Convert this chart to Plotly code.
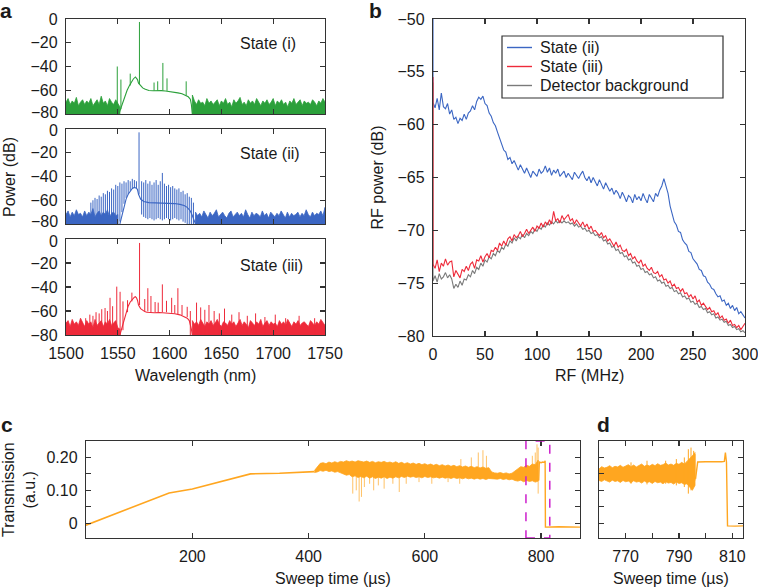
import numpy as np
import plotly.graph_objects as go

W, H = 758, 588
FONT = "Liberation Sans, Arial, sans-serif"
GREEN, BLUE, RED, GRAY = "#2ba03a", "#3b66c3", "#ee2a3a", "#7a7a7a"
ORANGE, MAGENTA, AX = "#ffa620", "#cc1fcc", "#333333"

# ---------------- panel a data (wavelength nm, power dB) ----------------
a_states = ["State (i)", "State (ii)", "State (iii)"]
pump_wl = [1570.9, 1570.5, 1571.0]
pump_db = [-2.5, -2.8, -3.3]
pump_base = [-55, -55, -55]

g_noise_l = [-70, -67, -72, -69, -71, -66, -73, -70, -68, -72, -69, -71, -67, -73, -70, -68, -72, -65,
             -71, -69, -73, -67, -70, -72, -68, -71, -74]
g_noise_r = [-64, -69, -72, -68, -71, -70, -73, -67, -71, -69, -72, -70, -68, -73, -69, -71, -67, -72,
             -70, -74, -68, -71, -69, -66, -72, -70, -73, -68, -71, -69, -72, -67, -70, -73, -69, -71,
             -68, -72, -70, -67, -73, -69, -71, -68, -72, -70, -74, -69, -71, -67, -72, -70, -68, -73,
             -69, -71, -70, -72, -68, -70, -73, -69, -71, -67, -70]
g_env_wl = [1551, 1553, 1555, 1557, 1559, 1561, 1563, 1565, 1567, 1568, 1569, 1570, 1572, 1574, 1576,
            1578, 1580, 1584, 1588, 1592, 1596, 1600, 1604, 1608, 1612, 1615, 1618, 1620, 1621, 1622]
g_env_db = [-80, -75, -69, -64, -60, -56.5, -53, -50.5, -48.8, -49.5, -51, -54, -56.5, -58, -59,
            -59.8, -60.2, -60.4, -60.1, -60.3, -60.6, -61, -61.5, -62.2, -63, -64, -65.5, -67.5, -72, -80]
g_spk_wl = [1549.5, 1553, 1562, 1585, 1588.5, 1593.5, 1597.5, 1616]
g_spk_top = [-40, -51, -46, -53.5, -52.5, -37, -50, -52.5]
g_spk_base = [-80, -76, -56, -60.4, -60.2, -60.2, -60.5, -64.5]

b_noise_l = [-72, -69, -74, -70, -73, -68, -72, -71, -74, -69, -73, -70, -72, -67, -74, -71, -69, -73,
             -70, -72, -68, -74, -71, -70, -73, -72]
b_noise_r = [-70, -73, -71, -74, -69, -72, -75, -70, -73, -71, -68, -74, -72, -70, -73, -75, -71, -69,
             -74, -72, -70, -73, -71, -74, -68, -72, -75, -70, -73, -71, -72, -74, -69, -73, -71, -75,
             -70, -72, -74, -71, -73, -69, -72, -75, -70, -74, -71, -73, -72, -70, -74, -71, -73, -68,
             -72, -74, -70, -73, -71, -72, -69, -73, -66]
b_env_wl = [1552, 1554, 1556, 1558, 1560, 1562, 1564, 1566, 1568, 1569, 1570, 1572, 1575, 1580, 1585,
            1590, 1595, 1600, 1605, 1610, 1614, 1617, 1620, 1622, 1624, 1625]
b_env_db = [-80, -73, -65, -59, -55, -52, -50, -49.2, -49.8, -51, -55, -59, -61, -62, -62.2, -61.8, -62,
            -62.3, -62.8, -63.5, -64.5, -66, -69, -73, -78, -80]
b_comb_wl = [1524, 1526, 1528, 1530, 1532, 1534, 1536, 1538, 1540, 1542, 1544, 1546, 1548, 1550, 1552,
             1554, 1556, 1558, 1560, 1562, 1564, 1566, 1568, 1573, 1575, 1577, 1579, 1581, 1583, 1585,
             1587, 1589, 1591, 1593, 1595, 1597, 1599, 1601, 1603, 1605, 1607, 1609, 1611, 1613, 1615,
             1617, 1619, 1621, 1623]
b_comb_top = [-62, -60, -58, -59, -56, -57, -54, -55, -52, -53, -50, -51, -47, -48, -45, -46, -44, -45,
              -43, -44, -42, -43, -44, -44, -45, -43, -46, -44, -47, -45, -43, -47, -44, -37, -46, -48,
              -47, -49, -48, -50, -51, -50, -53, -52, -55, -54, -57, -58, -62]
b_comb_base = [-80, -80, -80, -80, -80, -80, -80, -80, -80, -80, -80, -80, -80, -80,
               -78, -70, -63, -58, -55, -52, -50, -49, -50,
               -72, -74, -75, -76, -75, -76, -77, -76, -75, -76, -77, -76, -75, -76, -77, -76, -75,
               -76, -77, -76, -78, -79, -80, -80, -80, -80]

r_noise_l = [-70, -68, -73, -67, -71, -69, -72, -66, -70, -73, -68, -71, -69, -74, -67, -72, -70, -68,
             -73, -69, -71, -67, -72, -70, -68, -74, -75]
r_noise_r = [-68, -71, -69, -72, -67, -70, -73, -69, -71, -68, -72, -70, -67, -71, -73, -69, -70, -72,
             -68, -71, -69, -73, -70, -67, -72, -69, -71, -74, -68, -70, -72, -69, -71, -67, -73, -70,
             -68, -72, -69, -71, -70, -73, -68, -71, -69, -72, -67, -70, -73, -69, -71, -68, -72, -70,
             -69, -71, -73, -68, -70, -72, -69, -71, -67, -70, -72]
r_env_wl = [1552, 1554, 1556, 1558, 1560, 1562, 1564, 1566, 1567, 1568, 1569, 1570, 1572, 1574, 1576,
            1578, 1580, 1585, 1590, 1595, 1600, 1605, 1610, 1614, 1617, 1619, 1620, 1621, 1622]
r_env_db = [-80, -74, -66, -60, -56, -52.5, -50, -48.5, -48, -49, -51, -55, -58, -59.5, -60.5, -61,
            -61.3, -61.5, -61.2, -61.4, -61.8, -62.3, -63.2, -64.5, -66, -68, -71, -75, -80]
r_spk_wl = [1519, 1523, 1526, 1529, 1532, 1534.5, 1537.7, 1540, 1542.5, 1545, 1549, 1552.2, 1555,
            1559.4, 1563.6, 1576, 1579, 1582, 1586, 1589, 1593, 1597, 1602, 1605, 1608, 1612, 1617,
            1620, 1626, 1630, 1634, 1638, 1643, 1648, 1653, 1660, 1667, 1675, 1683, 1692, 1702, 1712,
            1725, 1740]
r_spk_top = [-66, -63, -64, -61, -62, -58.5, -57.5, -60, -49, -56, -39.7, -44, -52, -51, -44.7, -50,
             -41, -47.5, -52.5, -53, -37.8, -51.5, -49, -55, -41, -55, -56.5, -60, -53, -57, -59, -55,
             -60, -62, -58, -63, -61, -64, -62, -65, -63, -66, -64, -66]
r_spk_base = [-80, -80, -80, -80, -80, -80, -80, -80, -80, -80, -80, -80, -76, -61, -52, -60, -60.5,
              -61, -61, -61, -61, -61, -61.5, -62, -62.5, -63.5, -65, -80, -80, -80, -80, -80, -80,
              -80, -80, -80, -80, -80, -80, -80, -80, -80, -80, -80]

# ---------------- panel b data (RF MHz, dB), 2 MHz steps 0..300 ----------------
rf_spike_top = [-50.0, -55.5, -56.0]
rf_state2 = [-57.9, -58.4, -57.5, -58.6, -57.0, -58.3, -58.5, -58.0, -59.0, -58.6, -59.5, -59.3, -59.9,
             -59.4, -59.6, -59.0, -59.5, -58.9, -58.7, -58.2, -58.6, -57.8, -57.4, -57.6, -57.3, -58.0,
             -58.2, -58.9, -59.2, -59.8, -60.1, -60.7, -61.3, -61.8, -62.4, -62.6, -63.3, -63.1, -63.7,
             -63.4, -63.9, -64.3, -63.8, -64.2, -64.6, -64.1, -64.5, -65.0, -64.4, -64.7, -64.9, -64.2,
             -64.6, -64.4, -63.9, -64.5, -64.1, -64.8, -64.3, -64.6, -64.2, -64.9, -64.7, -64.4, -65.0,
             -64.6, -64.9, -65.2, -64.5, -64.8, -65.1, -64.7, -64.4, -65.0, -65.3, -64.9, -65.5, -65.0,
             -65.4, -65.8, -65.2, -65.6, -66.1, -65.5, -65.9, -66.3, -66.0, -66.6, -66.2, -66.5, -67.0,
             -66.4, -66.8, -67.3, -66.7, -66.9, -67.4, -66.6, -67.1, -66.8, -67.2, -66.5, -67.0, -67.4,
             -66.6, -66.9, -67.3, -66.5, -66.8, -66.2, -65.8, -65.1, -65.7, -66.5, -67.7, -68.4, -69.2,
             -69.5, -70.1, -70.2, -70.9, -71.2, -71.4, -72.0, -72.1, -72.7, -72.9, -73.2, -73.7, -73.8,
             -74.3, -74.4, -74.9, -75.1, -75.5, -75.6, -76.0, -76.3, -76.2, -76.7, -76.6, -77.1, -76.9,
             -77.4, -77.1, -77.6, -77.3, -77.9, -77.7, -78.0, -78.3]
rf_state3 = [-73.2, -73.6, -72.8, -73.9, -73.1, -73.4, -72.7, -73.3, -73.0, -72.9, -74.4, -73.8, -74.2,
             -74.5, -73.7, -73.9, -73.4, -73.8, -73.2, -73.0, -73.6, -72.8, -72.9, -72.4, -73.0, -72.5,
             -72.2, -72.6, -71.9, -72.0, -71.6, -71.9, -71.2, -71.5, -71.0, -71.4, -70.8, -70.6, -71.0,
             -70.4, -70.7, -70.5, -70.1, -70.6, -70.3, -69.9, -70.3, -70.0, -69.7, -70.1, -69.6, -69.8,
             -69.3, -69.7, -69.2, -69.5, -69.0, -69.4, -68.2, -69.1, -68.9, -69.3, -68.6, -69.0, -68.8,
             -68.5, -69.1, -68.9, -69.4, -69.0, -69.3, -69.6, -69.2, -69.7, -69.4, -69.9, -69.6, -70.1,
             -70.0, -70.2, -70.5, -70.2, -70.7, -70.5, -71.0, -70.8, -71.2, -71.5, -71.1, -71.6, -71.4,
             -71.9, -72.0, -71.8, -72.4, -72.2, -72.7, -72.5, -72.9, -73.1, -72.8, -73.4, -73.2, -73.6,
             -73.8, -73.5, -74.0, -74.1, -73.9, -74.4, -74.2, -74.7, -74.6, -75.0, -74.8, -75.3, -75.1,
             -75.5, -75.4, -75.8, -75.5, -76.0, -75.9, -76.3, -76.1, -76.5, -76.2, -76.8, -76.6, -77.1,
             -76.9, -77.2, -77.5, -77.3, -77.7, -77.6, -78.0, -77.8, -78.3, -78.1, -78.5, -78.4, -78.8,
             -78.5, -79.0, -78.9, -79.2, -79.0, -79.4, -79.1, -78.8]
rf_background = [-74.8, -74.3, -74.9, -74.1, -74.6, -74.4, -74.0, -74.5, -74.2, -74.6, -75.5, -75.1,
                 -75.4, -74.8, -75.2, -74.6, -74.7, -74.2, -74.4, -73.8, -74.1, -73.5, -73.7, -73.1,
                 -73.4, -72.8, -73.0, -72.5, -72.7, -72.2, -72.4, -71.9, -72.1, -71.6, -71.8, -71.3,
                 -71.5, -71.0, -71.2, -70.7, -71.0, -70.6, -70.8, -70.4, -70.7, -70.3, -70.5, -70.1,
                 -70.3, -69.9, -70.1, -69.7, -69.9, -69.5, -69.7, -69.3, -69.5, -69.2, -69.4, -69.1,
                 -69.3, -69.1, -69.3, -69.1, -69.3, -69.2, -69.4, -69.3, -69.6, -69.4, -69.7, -69.6,
                 -69.9, -69.8, -70.1, -70.0, -70.3, -70.2, -70.5, -70.4, -70.7, -70.6, -71.0, -70.9,
                 -71.3, -71.2, -71.6, -71.5, -71.9, -71.8, -72.2, -72.1, -72.5, -72.4, -72.8, -72.7,
                 -73.1, -73.0, -73.4, -73.3, -73.7, -73.6, -74.0, -73.9, -74.2, -74.1, -74.5, -74.4,
                 -74.8, -74.7, -75.0, -74.9, -75.3, -75.2, -75.5, -75.4, -75.8, -75.7, -76.0, -75.9,
                 -76.3, -76.2, -76.5, -76.4, -76.8, -76.7, -77.0, -76.9, -77.3, -77.2, -77.5, -77.4,
                 -77.8, -77.7, -78.0, -77.9, -78.3, -78.2, -78.5, -78.4, -78.7, -78.6, -79.0, -78.9,
                 -79.2, -79.1, -79.4, -79.3, -79.6, -79.5, -79.7]
rf_names = ["State (ii)", "State (iii)", "Detector background"]

# ---------------- panel c / d data (sweep time us, transmission a.u.) ----------------
c_ramp_t = [17, 60, 100, 130, 160, 200, 250, 300, 350, 400, 410]
c_ramp_v = [-0.006, 0.023, 0.050, 0.071, 0.092, 0.104, 0.126, 0.150, 0.152, 0.155, 0.157]
c_up = [0.160, 0.172, 0.182, 0.184, 0.181, 0.186, 0.183, 0.187, 0.184, 0.188, 0.186, 0.190, 0.187,
        0.189, 0.186, 0.190, 0.188, 0.186, 0.189, 0.185, 0.188, 0.184, 0.187, 0.185, 0.188, 0.184,
        0.186, 0.183, 0.187, 0.182, 0.185, 0.181, 0.184, 0.180, 0.183, 0.179, 0.182, 0.178, 0.181,
        0.177, 0.180, 0.176, 0.179, 0.175, 0.178, 0.174, 0.177, 0.173, 0.176, 0.172, 0.175, 0.171,
        0.174, 0.170, 0.173, 0.169, 0.172, 0.168, 0.171, 0.167, 0.169, 0.156, 0.153, 0.152, 0.154,
        0.151, 0.153, 0.150, 0.152, 0.158, 0.166, 0.172, 0.170, 0.176, 0.173, 0.180, 0.178, 0.192]
c_lo = [0.154, 0.156, 0.160, 0.158, 0.161, 0.157, 0.159, 0.155, 0.157, 0.152, 0.150, 0.146, 0.148,
        0.141, 0.144, 0.139, 0.142, 0.138, 0.143, 0.137, 0.141, 0.136, 0.140, 0.137, 0.141, 0.136,
        0.140, 0.137, 0.141, 0.138, 0.142, 0.139, 0.143, 0.140, 0.142, 0.139, 0.141, 0.138, 0.142,
        0.139, 0.141, 0.138, 0.140, 0.137, 0.140, 0.137, 0.139, 0.136, 0.139, 0.136, 0.138, 0.135,
        0.138, 0.135, 0.137, 0.134, 0.137, 0.134, 0.136, 0.133, 0.136, 0.137, 0.135, 0.134, 0.136,
        0.133, 0.135, 0.132, 0.134, 0.130, 0.128, 0.131, 0.126, 0.130, 0.127, 0.129, 0.125, 0.128]
c_spk_t = [476, 482, 487, 491, 496, 505, 512, 520, 530, 545, 556, 568, 590, 612, 640, 660,
           662, 680, 692, 700, 706, 785, 790, 793, 795]
c_spk_lo = [0.09, 0.10, 0.066, 0.08, 0.11, 0.12, 0.10, 0.115, 0.105, 0.12, 0.095, 0.12, 0.125, 0.12,
            0.125, 0.12, 0.17, 0.17, 0.17, 0.17, 0.165, 0.17, 0.17, 0.15, 0.09]
c_spk_hi = [0.15, 0.15, 0.15, 0.15, 0.15, 0.145, 0.145, 0.145, 0.145, 0.145, 0.145, 0.145, 0.145,
            0.145, 0.14, 0.14, 0.195, 0.20, 0.215, 0.222, 0.205, 0.205, 0.215, 0.24, 0.23]
c_tail_t = [796, 797, 800, 803, 806, 807, 807.5, 830, 867]
c_tail_v = [0.13, 0.186, 0.184, 0.186, 0.185, 0.19, -0.012, -0.011, -0.012]
zoom_window = [774, 815]

d_up = [0.165, 0.172, 0.168, 0.170, 0.175, 0.169, 0.173, 0.171, 0.176, 0.170, 0.174, 0.178, 0.172,
        0.177, 0.171, 0.175, 0.180, 0.173, 0.177, 0.174, 0.179, 0.175, 0.181, 0.176, 0.178, 0.183,
        0.177, 0.180, 0.176, 0.182, 0.179, 0.185, 0.180, 0.188, 0.195, 0.205, 0.215]
d_lo = [0.130, 0.127, 0.132, 0.128, 0.125, 0.131, 0.127, 0.129, 0.124, 0.130, 0.126, 0.128, 0.123,
        0.129, 0.125, 0.127, 0.122, 0.128, 0.124, 0.126, 0.121, 0.127, 0.123, 0.125, 0.120, 0.126,
        0.122, 0.124, 0.119, 0.125, 0.121, 0.123, 0.118, 0.120, 0.110, 0.100, 0.115]
d_spk_t = [772, 778, 785, 789, 792, 793.5, 794.5, 795.5, 796]
d_spk_lo = [0.12, 0.118, 0.12, 0.115, 0.11, 0.09, 0.10, 0.12, 0.13]
d_spk_hi = [0.185, 0.19, 0.19, 0.195, 0.20, 0.225, 0.23, 0.22, 0.21]
d_tail_t = [796.2, 797, 800, 803, 806, 807, 807.4, 807.8, 808.2, 811, 814]
d_tail_v = [0.135, 0.186, 0.187, 0.186, 0.187, 0.188, 0.215, 0.186, -0.008, -0.009, -0.008]


# ---------------- helpers ----------------
def px(x):
    return x / W


def py(y):
    return 1 - y / H


def segs(xs, lo, hi):
    X, Y = [], []
    for x, a, b in zip(xs, lo, hi):
        X += [x, x, None]
        Y += [a, b, None]
    return X, Y


def floor_fill(x0, x1, vals, floor=-85):
    xs = list(np.linspace(x0, x1, len(vals)))
    return [x0] + xs + [x1], [floor] + list(vals) + [floor]


fig = go.Figure()

# ---------------- panel a ----------------
a_cfg = [
    (GREEN, (1500, 1552, g_noise_l), (1622, 1750, g_noise_r), g_env_wl, g_env_db,
     g_spk_wl, g_spk_base, g_spk_top),
    (BLUE, (1500, 1550, b_noise_l), (1625, 1750, b_noise_r), b_env_wl, b_env_db,
     b_comb_wl, b_comb_base, b_comb_top),
    (RED, (1500, 1552, r_noise_l), (1622, 1750, r_noise_r), r_env_wl, r_env_db,
     r_spk_wl, r_spk_base, r_spk_top),
]
for k, (col, nl, nr, ewl, edb, swl, sbase, stop) in enumerate(a_cfg):
    xa, ya = ("x", "y") if k == 0 else (f"x{k+1}", f"y{k+1}")
    for seg in (nl, nr):
        X, Y = floor_fill(*seg)
        fig.add_trace(go.Scatter(x=X, y=Y, mode="lines", fill="toself", fillcolor=col,
                                 line=dict(color=col, width=0.8), xaxis=xa, yaxis=ya,
                                 showlegend=False, hoverinfo="skip"))
    fig.add_trace(go.Scatter(x=ewl, y=edb, mode="lines", line=dict(color=col, width=1.1),
                             xaxis=xa, yaxis=ya, showlegend=False, hoverinfo="skip"))
    X, Y = segs(list(swl) + [pump_wl[k]], list(sbase) + [pump_base[k]], list(stop) + [pump_db[k]])
    fig.add_trace(go.Scatter(x=X, y=Y, mode="lines", line=dict(color=col, width=1.0),
                             xaxis=xa, yaxis=ya, showlegend=False, hoverinfo="skip"))

# ---------------- panel b ----------------
b_colors = [BLUE, RED, GRAY]
b_vals = [rf_state2, rf_state3, rf_background]
for idx in (0, 2, 1):   # draw blue, then grey, red on top
    vals = b_vals[idx]
    fig.add_trace(go.Scatter(x=[0] + list(np.linspace(0, 300, len(vals))),
                             y=[rf_spike_top[idx]] + list(vals), mode="lines",
                             line=dict(color=b_colors[idx], width=1.1), name=rf_names[idx],
                             showlegend=False, xaxis="x4", yaxis="y4", hoverinfo="skip"))

# ---------------- panel c ----------------
fig.add_trace(go.Scatter(x=c_ramp_t, y=c_ramp_v, mode="lines", line=dict(color=ORANGE, width=1.6),
                         xaxis="x5", yaxis="y5", showlegend=False, hoverinfo="skip"))
ct = list(np.linspace(410, 795, len(c_up)))
ctl = list(np.linspace(410, 795, len(c_lo)))
fig.add_trace(go.Scatter(x=ct + ctl[::-1], y=list(c_up) + list(c_lo)[::-1], mode="lines",
                         fill="toself", fillcolor=ORANGE, line=dict(color=ORANGE, width=0.8),
                         xaxis="x5", yaxis="y5", showlegend=False, hoverinfo="skip"))
X, Y = segs(c_spk_t, c_spk_lo, c_spk_hi)
fig.add_trace(go.Scatter(x=X, y=Y, mode="lines", line=dict(color=ORANGE, width=0.8),
                         opacity=0.85, xaxis="x5", yaxis="y5", showlegend=False, hoverinfo="skip"))
fig.add_trace(go.Scatter(x=c_tail_t, y=c_tail_v, mode="lines", line=dict(color=ORANGE, width=1.4),
                         xaxis="x5", yaxis="y5", showlegend=False, hoverinfo="skip"))

# ---------------- panel d ----------------
dt = list(np.linspace(760, 796, len(d_up)))
dtl = list(np.linspace(760, 796, len(d_lo)))
fig.add_trace(go.Scatter(x=dt + dtl[::-1], y=list(d_up) + list(d_lo)[::-1], mode="lines",
                         fill="toself", fillcolor=ORANGE, line=dict(color=ORANGE, width=0.8),
                         xaxis="x6", yaxis="y6", showlegend=False, hoverinfo="skip"))
X, Y = segs(d_spk_t, d_spk_lo, d_spk_hi)
fig.add_trace(go.Scatter(x=X, y=Y, mode="lines", line=dict(color=ORANGE, width=1.0),
                         xaxis="x6", yaxis="y6", showlegend=False, hoverinfo="skip"))
fig.add_trace(go.Scatter(x=d_tail_t, y=d_tail_v, mode="lines", line=dict(color=ORANGE, width=1.4),
                         xaxis="x6", yaxis="y6", showlegend=False, hoverinfo="skip"))

# ---------------- layout ----------------
tickfont = dict(family=FONT, size=16, color="#1a1a1a")


def axis(**kw):
    base = dict(showline=True, linecolor=AX, linewidth=1.2, mirror="ticks", ticks="inside",
                ticklen=5, tickwidth=1.2, tickcolor=AX, showgrid=False, zeroline=False,
                tickfont=tickfont, ticklabelstandoff=4, fixedrange=True, automargin=False,
                ticklabeloverflow="allow")
    base.update(kw)
    return base


A_LEFT = 66
ax_a = dict(domain=[px(A_LEFT), px(325)], range=[1500, 1750],
            tickvals=[1500, 1550, 1600, 1650, 1700, 1750])
a_yticks = [0, -20, -40, -60, -80]
lay = dict(
    xaxis=axis(anchor="y", showticklabels=False, **ax_a),
    yaxis=axis(anchor="x", domain=[py(114), py(19)], range=[-80, 0], tickvals=a_yticks,
               ticktext=["0", "−20", "−40", "−60", ""]),
    xaxis2=axis(anchor="y2", showticklabels=False, **ax_a),
    yaxis2=axis(anchor="x2", domain=[py(224), py(129)], range=[-80, 0], tickvals=a_yticks,
                ticktext=["", "−20", "−40", "−60", ""]),
    xaxis3=axis(anchor="y3", **ax_a),
    yaxis3=axis(anchor="x3", domain=[py(335), py(239)], range=[-80, 0], tickvals=a_yticks,
                ticktext=["", "−20", "−40", "−60", "−80"]),
    xaxis4=axis(anchor="y4", domain=[px(433), px(745)], range=[0, 300],
                tickvals=[0, 50, 100, 150, 200, 250, 300]),
    yaxis4=axis(anchor="x4", domain=[py(336), py(19)], range=[-80, -50],
                tickvals=[-80, -75, -70, -65, -60, -55, -50]),
    xaxis5=axis(anchor="y5", domain=[px(86), px(580)], range=[17, 867], tickvals=[200, 400, 600, 800]),
    yaxis5=axis(anchor="x5", domain=[py(538), py(441)], range=[-0.045, 0.25],
                tickvals=[0, 0.05, 0.10, 0.15, 0.20], ticktext=["0", "", "0.10", "", "0.20"]),
    xaxis6=axis(anchor="y6", domain=[px(599), px(743)], range=[760, 814],
                tickvals=[770, 780, 790, 800, 810], ticktext=["770", "", "790", "", "810"]),
    yaxis6=axis(anchor="x6", domain=[py(538), py(441)], range=[-0.045, 0.25],
                tickvals=[0, 0.05, 0.10, 0.15, 0.20], showticklabels=False),
)

annotations = []


def note(text, x, y, angle=0, xanchor="center", size=16):
    annotations.append(dict(text=text, x=px(x), y=py(y), xref="paper", yref="paper",
                            xanchor=xanchor, yanchor="middle", showarrow=False, textangle=angle,
                            font=dict(family=FONT, size=size, color="#1a1a1a")))


# shared-edge tick labels of the stacked spectra, nudged apart slightly
for lab, yy in [("−80", 112), ("0", 131), ("−80", 222), ("0", 241)]:
    note(lab, A_LEFT - 6, yy, xanchor="right")
for label, yy in zip(a_states, [43, 153, 266]):
    note(label, 238, yy, xanchor="left")
note("Power (dB)", 10, 177, angle=-90)
note("Wavelength (nm)", 195.5, 375)
note("RF power (dB)", 377, 177.5, angle=-90)
note("RF (MHz)", 589, 375)
note("Transmission<br>(a.u.)", 19, 490, angle=-90)
note("Sweep time (µs)", 333, 578)
note("Sweep time (µs)", 671, 578)
for lab, x, y in [("a", 6, 11), ("b", 375, 10), ("c", 7, 424), ("d", 603, 424)]:
    note(f"<b>{lab}</b>", x, y, size=21)

shapes = [dict(type="rect", xref="x5", yref="y5", x0=zoom_window[0], x1=zoom_window[1],
               y0=-0.045, y1=0.25, line=dict(color=MAGENTA, width=1.5, dash="dash"))]

# legend for panel b, drawn as a box with line samples and labels
LEG_BOX = (502, 36, 723, 98)
shapes.append(dict(type="rect", xref="paper", yref="paper", x0=px(LEG_BOX[0]), x1=px(LEG_BOX[2]),
                   y0=py(LEG_BOX[3]), y1=py(LEG_BOX[1]), line=dict(color=AX, width=1.2),
                   fillcolor="white", layer="above"))
for i, yy in enumerate([47.5, 66.5, 85.5]):
    shapes.append(dict(type="line", xref="paper", yref="paper", x0=px(507), x1=px(532),
                       y0=py(yy), y1=py(yy), line=dict(color=b_colors[i], width=1.4), layer="above"))
    note(rf_names[i], 538, yy, xanchor="left")

fig.update_layout(
    template="none",
    width=W, height=H, margin=dict(l=0, r=0, t=0, b=0, autoexpand=False),
    paper_bgcolor="white", plot_bgcolor="white",
    font=dict(family=FONT, size=16, color="#1a1a1a"),
    showlegend=False,
    annotations=annotations, shapes=shapes, **lay,
)

fig.write_html("out.html", config={"displayModeBar": False, "staticPlot": True},
               post_script="document.body.style.margin='0';")
